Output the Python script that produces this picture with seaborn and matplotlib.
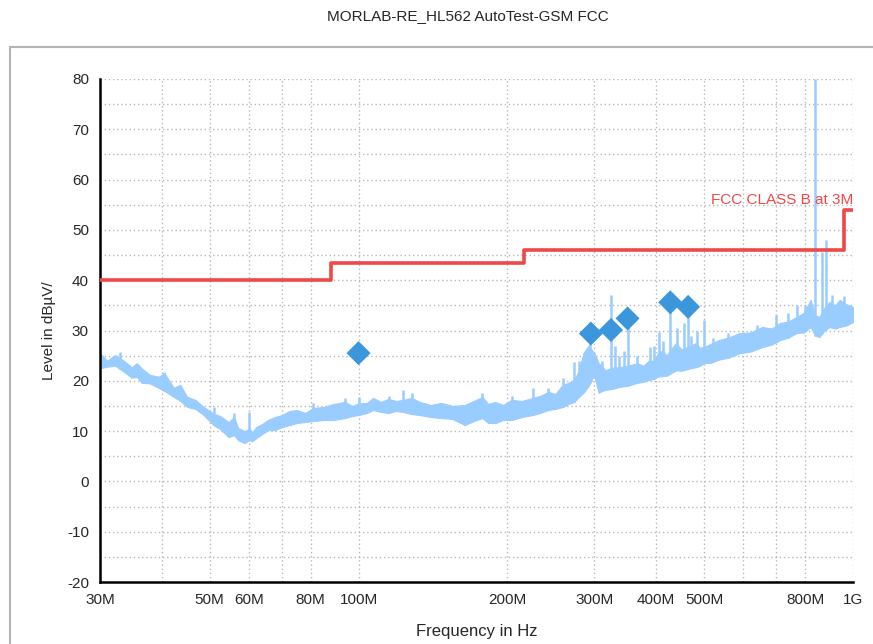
import numpy as np
import seaborn as sns
import matplotlib.pyplot as plt
from matplotlib.patches import Rectangle

# limit line (MHz, dBuV/m), stepped
limit_freq = [30, 88, 216, 960, 1000]
limit_level = [40, 43.5, 46, 54, 54]

# measured trace, read as an upper / lower envelope of the noise band
trace_freq = [30, 31, 32.2, 33.3, 34.8, 35.6, 36.4, 37.8, 39.4, 40.5, 42.3, 43.6,
              45.0, 46.8, 48.6, 50.9, 52.5, 54.6, 56.0, 57.1, 58.8, 60.1, 61, 62.1,
              63.8, 65.6, 67.8, 70, 72.5, 75, 78, 81, 85, 89, 94, 97, 100, 104, 107,
              111, 115, 119, 123, 128, 133, 140, 147, 155, 164, 171, 178, 183, 189,
              196, 204, 214, 225, 233, 242, 250, 259, 266, 273, 279, 285, 292, 297,
              300, 306, 311, 316, 326, 337, 350, 366, 377, 388, 396, 403, 412, 420,
              430, 439, 450, 465, 481, 490, 500, 517, 535, 560, 590, 620, 655, 685,
              712, 740, 769, 795, 821, 838, 855, 875, 897, 920, 940, 970, 1000]
trace_hi = [25.5, 24.0, 25.1, 24.2, 22.7, 23.5, 22.5, 21.2, 20.8, 21.5, 18.6, 19.2,
            16.8, 16.2, 14.8, 13.5, 13.0, 11.8, 12.8, 10.6, 10.0, 10.5, 9.8, 10.8,
            11.4, 12.2, 12.8, 13.2, 14.0, 14.2, 13.6, 14.6, 14.8, 15.4, 15.8, 15.0, 15.5, 15.6, 16.6,
            15.8, 16.4, 16.0, 16.2, 16.6, 15.8, 15.2, 15.6, 15.0, 15.2, 16.0, 16.8, 15.4, 15.8,
            15.2, 16.2, 16.0, 16.6, 17.0, 17.8, 17.4, 19.2, 19.6, 20.2, 22.0, 25.5, 27.0, 26.0,
            25.5, 23.5, 22.8, 22.1, 22.6, 22.7, 23.0, 23.5, 23.0, 24.2, 23.8, 25.5, 26.0, 25.0,
            26.5, 27.5, 26.2, 26.8, 27.5, 26.6, 26.7, 27.4, 28.1, 28.6, 29.5, 29.6, 30.7, 30.4,
            31.5, 31.8, 32.7, 33.5, 36.1, 33.0, 32.7, 34.5, 35.7, 35.0, 36.1, 35.2, 34.7]
trace_lo = [22.5, 22.8, 23.0, 22.0, 20.6, 20.8, 19.6, 19.5, 18.6, 18.0, 16.8, 16.0,
            14.8, 14.4, 13.2, 11.2, 10.4, 8.8, 9.2, 8.2, 7.6, 8.2, 8.0, 8.6,
            9.4, 10.2, 10.2, 10.8, 11.2, 11.6, 11.8, 12.0, 12.2, 12.2, 12.6, 13.0, 13.2, 13.6, 14.2,
            13.8, 13.6, 14.0, 13.8, 13.4, 13.2, 12.8, 12.6, 12.4, 11.2, 12.0, 12.6, 11.6, 11.6,
            12.2, 12.2, 12.8, 13.2, 13.6, 14.2, 14.4, 14.8, 15.4, 15.8, 16.8, 17.6, 19.0, 20.5,
            20.8, 17.6, 18.0, 18.2, 18.4, 18.8, 19.0, 19.6, 19.8, 20.2, 20.4, 20.8, 21.0, 21.0,
            21.6, 22.1, 22.0, 22.4, 22.7, 23.0, 23.5, 23.6, 24.2, 24.6, 25.5, 25.8, 26.7, 27.2,
            28.1, 28.6, 29.5, 29.6, 30.7, 29.0, 28.7, 30.0, 30.7, 30.4, 30.7, 31.0, 31.7]

# narrow spikes rising out of the band
spike_freq = [33, 40.5, 51, 56, 60.1, 81, 94, 100, 115, 123, 128, 178, 204, 225,
              242, 259, 273, 279, 294, 311, 324, 330, 337, 345, 350, 366, 388, 396,
              406, 412, 427, 440, 455, 464, 470, 484, 500, 520, 560, 640, 700, 740,
              769, 800, 838, 865, 880, 905, 960]
spike_peak = [25.8, 21.8, 14.8, 13.5, 13.8, 15.5, 16.5, 16.8, 17.0, 18.2, 17.5, 17.5,
              17.0, 18.6, 18.5, 20.5, 23.7, 24.0, 29.0, 24.0, 37.1, 27.0, 25.0, 26.0,
              32.1, 25.0, 26.7, 27.0, 29.7, 28.0, 35.3, 30.5, 31.5, 34.7, 29.0, 30.0,
              32.1, 28.5, 29.5, 31.0, 33.0, 33.5, 35.1, 35.0, 80, 45.6, 48.0, 37.0, 36.8]

# final measurement markers
peak_freq = [100, 295, 324, 350, 427, 464]
peak_level = [25.5, 29.4, 30.1, 32.4, 35.6, 34.7]

x_ticks = [30, 40, 50, 60, 70, 80, 100, 200, 300, 400, 500, 600, 700, 800, 1000]
x_labels = ["30M", "", "50M", "60M", "", "80M", "100M", "200M", "300M", "400M",
            "500M", "", "", "800M", "1G"]

sns.set_theme(style="white")
plt.rcParams['font.family'] = ['Liberation Sans', 'DejaVu Sans']

trace_col = "#99ccff"
limit_col = "#f04848"
mark_col = "#3c96dc"

fig = plt.figure(figsize=(8.73, 6.44), dpi=100)
ax = fig.add_axes([100 / 873, 1 - 582 / 644, 753 / 873, 503 / 644])

fig.patches.append(Rectangle((10 / 873, -0.05), 1.0, 1 - 47 / 644 + 0.05,
                             transform=fig.transFigure, fill=False,
                             edgecolor="#b4b4b4", linewidth=1.5))

ax.fill_between(trace_freq, trace_lo, trace_hi, color=trace_col, linewidth=0.8,
                edgecolor=trace_col, zorder=2)
base = np.interp(spike_freq, trace_freq, trace_lo)
ax.vlines(spike_freq, base, spike_peak, color=trace_col, linewidth=1.8, zorder=2)

sns.lineplot(x=limit_freq, y=limit_level, drawstyle="steps-post", color=limit_col,
             linewidth=2.6, ax=ax, zorder=3)
sns.scatterplot(x=peak_freq, y=peak_level, marker="D", s=150, color=mark_col,
                edgecolor="none", ax=ax, zorder=4)

ax.set_xscale("log")
ax.set_xlim(30, 1000)
ax.set_ylim(-20, 80)
ax.set_xticks(x_ticks)
ax.set_xticklabels(x_labels)
ax.minorticks_off()
ax.set_yticks(np.arange(-20, 81, 5))
ax.set_yticklabels([str(v) if v % 10 == 0 else "" for v in range(-20, 81, 5)])
ax.tick_params(axis="both", direction="inout", length=8, width=1.5, color="black",
               labelsize=11, pad=4)
ax.grid(True, linestyle=(0, (1, 2)), color="#b8b8b8", linewidth=1)
for side in ["top", "right"]:
    ax.spines[side].set_visible(False)
for side in ["left", "bottom"]:
    ax.spines[side].set_color("black")
    ax.spines[side].set_linewidth(1.8)

ax.text(1003, 56, "FCC CLASS B at 3M", color=limit_col, fontsize=11,
        ha="right", va="center")
ax.set_xlabel("Frequency in Hz", fontsize=12, labelpad=12)
ax.set_ylabel("Level in dBµV/", fontsize=11, labelpad=8)
fig.text(468 / 873, 1 - 16 / 644, "MORLAB-RE_HL562 AutoTest-GSM FCC", fontsize=11,
         ha="center", va="center")

plt.savefig("out.png", dpi=100)
